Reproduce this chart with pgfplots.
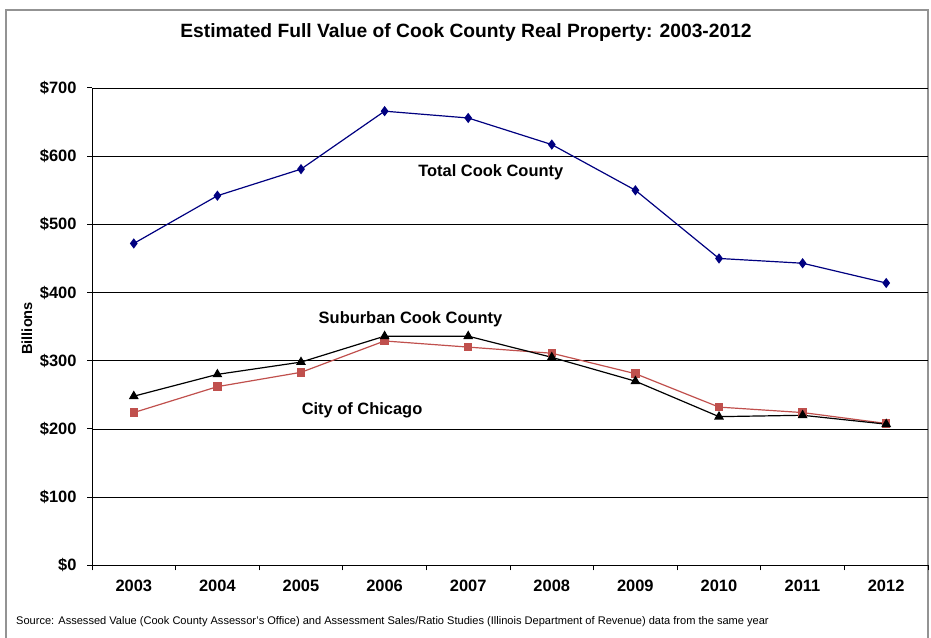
\documentclass[border=0pt]{standalone}
\usepackage{pgfplots}
\pgfplotsset{compat=1.18}
\usepackage{fontspec}
\setmainfont{Liberation Sans}
\definecolor{navyblue}{RGB}{0,0,128}
\definecolor{chired}{RGB}{192,80,77}
\newcommand\lbl{\fontsize{16.5}{19}\selectfont\bfseries}

\begin{document}
\begin{tikzpicture}[x=1bp,y=1bp]
\useasboundingbox (0,0) rectangle (931,638);
\draw[gray!85, line width=1.5bp] (6,-10) rectangle (928,628);
\node[font=\fontsize{19.3}{22}\selectfont\bfseries] at (466,605) {Estimated Full Value of Cook County Real Property: 2003-2012};
\node[anchor=west, font=\fontsize{11.1}{13}\selectfont, inner sep=0] at (16,16)
  {Source: Assessed Value (Cook County Assessor's Office) and Assessment Sales/Ratio Studies (Illinois Department of Revenue) data from the same year};
\node[rotate=90, font=\fontsize{14.7}{17}\selectfont\bfseries] at (27,309.6) {Billions};
\begin{axis}[
  at={(92bp,72.7bp)}, anchor=south west,
  scale only axis, width=836bp, height=477.3bp,
  xmin=2002.5, xmax=2012.5, ymin=0, ymax=700,
  axis x line*=bottom, axis y line*=left,
  axis line style={line width=1bp},
  xtick={2003,...,2012}, minor xtick={2002.5,2003.5,...,2012.5},
  major x tick style={draw=none},
  minor tick length=5bp, major tick length=5bp,
  tick align=outside, tick style={black, line width=1bp},
  ytick={0,100,...,700},
  ymajorgrids, major grid style={black, line width=0.8bp},
  /pgf/number format/assume math mode=true,
  /pgf/number format/1000 sep={},
  ticklabel style={font=\lbl},
  yticklabel={\$\pgfmathprintnumber{\tick}},
  yticklabel style={xshift=-7bp},
  xticklabel style={yshift=-6bp},
  clip=false,
]
\addplot[navyblue, line width=1.2bp, mark=diamond*, mark size=4.2bp]
  coordinates {(2003,472) (2004,542) (2005,581) (2006,666) (2007,656)
               (2008,617) (2009,550) (2010,450) (2011,443) (2012,414)};
\addplot[chired, line width=1.2bp, mark=square*, mark size=3.6bp]
  coordinates {(2003,224) (2004,262) (2005,283) (2006,329) (2007,320)
               (2008,311) (2009,281) (2010,232) (2011,224) (2012,208)};
\addplot[black, line width=1.2bp, mark=triangle*, mark size=4.5bp]
  coordinates {(2003,248) (2004,280) (2005,298) (2006,336) (2007,336)
               (2008,305) (2009,270) (2010,218) (2011,220) (2012,207)};
\node[font=\lbl] at (axis cs:2007.27,576) {Total Cook County};
\node[font=\lbl] at (axis cs:2006.31,361.5) {Suburban Cook County};
\node[font=\lbl] at (axis cs:2005.73,227) {City of Chicago};
\end{axis}
\end{tikzpicture}
\end{document}
